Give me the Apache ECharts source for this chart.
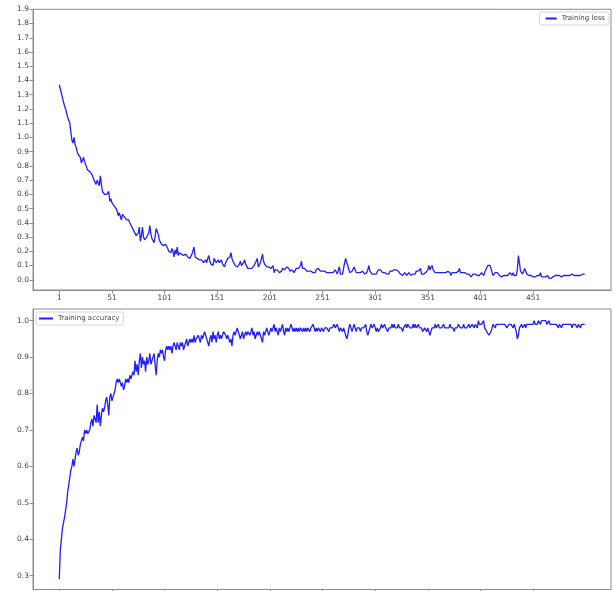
<!DOCTYPE html>
<html>
<head>
<meta charset="utf-8">
<script src="https://cdn.jsdelivr.net/npm/echarts@6/dist/echarts.min.js"></script>
<style>
html,body{margin:0;padding:0;background:#fff;}
#chart{width:614px;height:591px;}
</style>
</head>
<body>
<div id="chart"></div>
<script>
// Training loss per epoch (epochs 1..500)
const trainingLoss = [
1.37,1.34,1.31,1.28,1.25,1.22,1.20,1.17,1.14,1.12,
1.10,1.04,0.98,0.96,1.00,0.95,0.93,0.90,0.88,0.89,
0.86,0.82,0.84,0.86,0.83,0.81,0.80,0.77,0.78,0.76,
0.77,0.74,0.72,0.70,0.69,0.67,0.70,0.68,0.66,0.73,
0.67,0.62,0.63,0.60,0.61,0.60,0.59,0.62,0.55,0.57,
0.54,0.55,0.52,0.53,0.50,0.48,0.45,0.47,0.48,0.42,
0.46,0.47,0.44,0.43,0.42,0.41,0.42,0.40,0.40,0.37,
0.36,0.34,0.35,0.31,0.30,0.33,0.37,0.27,0.31,0.37,
0.30,0.28,0.29,0.30,0.31,0.33,0.38,0.32,0.29,0.28,
0.26,0.30,0.36,0.35,0.32,0.28,0.27,0.25,0.26,0.24,
0.23,0.25,0.24,0.22,0.20,0.21,0.19,0.22,0.20,0.16,
0.21,0.18,0.23,0.17,0.19,0.20,0.18,0.19,0.17,0.18,
0.18,0.17,0.16,0.17,0.15,0.16,0.18,0.19,0.23,0.16,
0.17,0.15,0.16,0.14,0.15,0.14,0.13,0.12,0.13,0.14,
0.12,0.15,0.17,0.13,0.11,0.12,0.10,0.15,0.14,0.12,
0.13,0.14,0.12,0.13,0.14,0.11,0.10,0.09,0.12,0.13,
0.15,0.14,0.16,0.19,0.15,0.13,0.12,0.10,0.11,0.09,
0.08,0.11,0.13,0.10,0.09,0.12,0.14,0.11,0.10,0.08,
0.09,0.08,0.09,0.08,0.09,0.10,0.09,0.13,0.15,0.09,
0.08,0.12,0.11,0.18,0.13,0.11,0.10,0.09,0.10,0.09,
0.10,0.08,0.09,0.10,0.05,0.07,0.08,0.07,0.06,0.05,
0.04,0.06,0.08,0.09,0.07,0.08,0.09,0.10,0.08,0.06,
0.05,0.07,0.06,0.05,0.06,0.08,0.07,0.08,0.09,0.10,
0.13,0.08,0.07,0.08,0.07,0.06,0.07,0.06,0.05,0.06,
0.06,0.05,0.06,0.05,0.07,0.06,0.08,0.09,0.06,0.05,
0.06,0.05,0.06,0.06,0.05,0.06,0.05,0.06,0.05,0.06,
0.05,0.06,0.07,0.08,0.04,0.07,0.09,0.04,0.05,0.04,
0.08,0.12,0.15,0.12,0.10,0.07,0.05,0.04,0.06,0.05,
0.09,0.08,0.05,0.06,0.05,0.06,0.05,0.04,0.06,0.05,
0.04,0.03,0.05,0.07,0.10,0.06,0.05,0.04,0.05,0.04,
0.05,0.04,0.05,0.07,0.08,0.07,0.06,0.05,0.04,0.05,
0.04,0.04,0.05,0.04,0.06,0.05,0.06,0.05,0.07,0.06,
0.07,0.08,0.06,0.05,0.04,0.05,0.03,0.04,0.05,0.04,
0.03,0.04,0.05,0.04,0.03,0.03,0.04,0.05,0.04,0.06,
0.05,0.06,0.07,0.08,0.04,0.05,0.04,0.05,0.05,0.06,
0.07,0.10,0.07,0.08,0.10,0.07,0.06,0.05,0.04,0.05,
0.04,0.05,0.04,0.05,0.04,0.05,0.06,0.05,0.04,0.06,
0.07,0.05,0.03,0.05,0.06,0.05,0.04,0.05,0.04,0.06,
0.08,0.05,0.04,0.05,0.04,0.05,0.06,0.04,0.05,0.04,
0.03,0.02,0.03,0.04,0.03,0.04,0.04,0.03,0.02,0.03,
0.04,0.05,0.04,0.03,0.05,0.07,0.08,0.10,0.09,0.10,
0.08,0.05,0.03,0.04,0.05,0.04,0.05,0.04,0.03,0.03,
0.02,0.03,0.03,0.02,0.03,0.04,0.03,0.04,0.05,0.04,
0.03,0.05,0.03,0.02,0.03,0.07,0.17,0.12,0.06,0.05,
0.04,0.06,0.08,0.06,0.04,0.03,0.03,0.04,0.03,0.02,
0.02,0.03,0.02,0.02,0.03,0.02,0.03,0.05,0.02,0.01,
0.02,0.01,0.02,0.02,0.03,0.01,0.00,0.01,0.02,0.02,
0.02,0.03,0.02,0.03,0.02,0.03,0.02,0.02,0.03,0.03,
0.02,0.03,0.03,0.03,0.04,0.03,0.03,0.04,0.04,0.03,
0.02,0.03,0.02,0.03,0.02,0.03,0.03,0.04,0.04,0.04
];

// Training accuracy per epoch (epochs 1..500)
const trainingAccuracy = [
0.29,0.37,0.37,0.43,0.43,0.46,0.46,0.50,0.53,0.55,
0.57,0.59,0.60,0.62,0.60,0.62,0.64,0.65,0.63,0.64,
0.66,0.67,0.68,0.67,0.70,0.69,0.70,0.69,0.69,0.70,
0.72,0.73,0.71,0.74,0.73,0.72,0.77,0.72,0.75,0.71,
0.74,0.76,0.75,0.76,0.78,0.79,0.77,0.74,0.79,0.80,
0.78,0.79,0.80,0.81,0.83,0.84,0.83,0.84,0.83,0.82,
0.83,0.81,0.82,0.84,0.83,0.84,0.83,0.85,0.84,0.85,
0.86,0.85,0.89,0.86,0.88,0.85,0.89,0.91,0.87,0.90,
0.88,0.89,0.86,0.90,0.88,0.89,0.91,0.88,0.89,0.90,
0.91,0.88,0.85,0.89,0.91,0.90,0.92,0.91,0.92,0.90,
0.89,0.92,0.93,0.92,0.93,0.92,0.93,0.91,0.93,0.94,
0.94,0.92,0.94,0.93,0.92,0.94,0.93,0.94,0.92,0.93,
0.94,0.95,0.93,0.94,0.95,0.94,0.95,0.94,0.96,0.94,
0.95,0.95,0.96,0.95,0.94,0.96,0.95,0.96,0.97,0.96,
0.95,0.94,0.93,0.95,0.96,0.94,0.97,0.95,0.96,0.94,
0.96,0.97,0.95,0.96,0.95,0.96,0.97,0.97,0.96,0.95,
0.96,0.95,0.94,0.95,0.93,0.96,0.97,0.96,0.97,0.98,
0.98,0.96,0.95,0.96,0.97,0.95,0.96,0.97,0.96,0.97,
0.97,0.96,0.97,0.98,0.96,0.97,0.95,0.96,0.97,0.96,
0.97,0.96,0.95,0.94,0.97,0.96,0.97,0.98,0.97,0.96,
0.97,0.98,0.97,0.98,0.99,0.97,0.98,0.97,0.96,0.98,
0.97,0.98,0.99,0.97,0.96,0.98,0.97,0.98,0.97,0.98,
0.99,0.98,0.97,0.98,0.97,0.98,0.97,0.98,0.97,0.98,
0.98,0.97,0.98,0.97,0.98,0.97,0.98,0.98,0.97,0.98,
0.98,0.99,0.98,0.97,0.98,0.97,0.98,0.98,0.97,0.98,
0.98,0.97,0.98,0.98,0.98,0.98,0.97,0.98,0.98,0.98,
0.98,0.99,0.98,0.98,0.99,0.98,0.97,0.98,0.98,0.97,
0.98,0.97,0.96,0.95,0.96,0.98,0.99,0.98,0.97,0.98,
0.99,0.98,0.97,0.98,0.98,0.98,0.97,0.98,0.98,0.98,
0.98,0.99,0.97,0.96,0.96,0.98,0.99,0.98,0.98,0.99,
0.98,0.97,0.98,0.97,0.97,0.98,0.99,0.98,0.98,0.99,
0.98,0.98,0.97,0.98,0.98,0.98,0.99,0.98,0.99,0.98,
0.98,0.98,0.99,0.98,0.98,0.98,0.97,0.98,0.98,0.99,
0.98,0.99,0.99,0.98,0.98,0.98,0.99,0.98,0.99,0.98,
0.98,0.99,0.98,0.98,0.98,0.97,0.97,0.98,0.98,0.97,
0.98,0.97,0.96,0.97,0.98,0.98,0.98,0.99,0.98,0.98,
0.99,0.98,0.98,0.98,0.98,0.99,0.98,0.98,0.98,0.98,
0.98,0.99,0.98,0.98,0.98,0.97,0.98,0.98,0.98,0.99,
0.99,0.98,0.98,0.98,0.99,0.98,0.98,0.98,0.98,0.99,
0.98,0.98,0.99,0.99,0.98,0.99,0.99,0.98,1.00,0.99,
0.99,0.99,0.99,1.00,0.98,0.98,0.97,0.97,0.96,0.96,
0.97,0.98,0.99,0.99,0.98,0.99,0.99,0.99,0.99,0.99,
0.99,0.99,0.99,0.99,0.99,0.98,0.98,0.99,0.99,0.99,
0.99,0.98,0.99,0.98,0.97,0.95,0.96,0.98,0.98,0.99,
0.98,0.98,0.99,0.98,0.99,0.99,0.99,0.99,0.99,0.99,
0.99,1.00,0.99,0.99,0.99,1.00,1.00,0.99,1.00,1.00,
1.00,1.00,1.00,0.99,0.99,1.00,0.99,0.99,0.99,0.99,
0.99,0.99,0.99,0.99,0.98,0.99,0.99,0.98,0.99,0.99,
0.99,0.99,0.99,0.99,0.99,0.99,0.99,0.98,0.99,0.99,
0.99,0.99,0.98,0.99,0.99,0.98,0.99,0.99,0.99,0.99
];

// Tick labels
const epochTicks = [1, 51, 101, 151, 201, 251, 301, 351, 401, 451];
const lossTicks = [0.0,0.1,0.2,0.3,0.4,0.5,0.6,0.7,0.8,0.9,1.0,1.1,1.2,1.3,1.4,1.5,1.6,1.7,1.8,1.9];
const accTicks = [0.3,0.4,0.5,0.6,0.7,0.8,0.9,1.0];

const lossPoints = trainingLoss.map((v, i) => [i + 1, v]);
const accPoints = trainingAccuracy.map((v, i) => [i + 1, v]);

const frameColor = '#8c8c8c';
const textColor = '#444';
const lineColor = '#1f1fff';
const fontFamily = '"DejaVu Sans", sans-serif';

function xAxisCfg(gridIndex, showLabels) {
  return {
    type: 'value', gridIndex,
    min: -23.95, max: 524.95,
    splitLine: { show: false },
    axisLine: { show: true, onZero: false, lineStyle: { color: frameColor, width: 1 } },
    axisTick: { show: true, length: 3.5, inside: false, customValues: epochTicks, lineStyle: { color: frameColor } },
    axisLabel: { show: showLabels, customValues: epochTicks, color: textColor, fontSize: 7.5, fontFamily, margin: 4 }
  };
}
function yAxisCfg(gridIndex, min, max, ticks) {
  return {
    type: 'value', gridIndex, min, max,
    splitLine: { show: false },
    axisLine: { show: true, onZero: false, lineStyle: { color: frameColor, width: 1 } },
    axisTick: { show: true, length: 3.5, customValues: ticks, lineStyle: { color: frameColor } },
    axisLabel: { customValues: ticks, color: textColor, fontSize: 7.5, fontFamily, margin: 4,
      formatter: v => Number(v).toFixed(1) }
  };
}

const chart = echarts.init(document.getElementById('chart'), null, { renderer: 'canvas' });
chart.setOption({
  animation: false,
  backgroundColor: '#fff',
  grid: [
    { left: 33, top: 9.3, width: 578, height: 280.7, show: true, borderColor: frameColor, borderWidth: 1, containLabel: false },
    { left: 33, top: 309, width: 578, height: 280.5, show: true, borderColor: frameColor, borderWidth: 1, containLabel: false }
  ],
  xAxis: [xAxisCfg(0, true), xAxisCfg(1, false)],
  yAxis: [yAxisCfg(0, -0.072, 1.9, lossTicks), yAxisCfg(1, 0.262, 1.032, accTicks)],
  legend: [
    { data: ['Training loss'], right: 5, top: 12, orient: 'vertical',
      itemWidth: 11, itemHeight: 2, itemGap: 4, padding: [3, 4, 3, 6],
      borderColor: '#d6d6d6', borderWidth: 1, borderRadius: 2, backgroundColor: '#fff',
      textStyle: { color: textColor, fontSize: 7, fontFamily },
      icon: 'rect' },
    { data: ['Training accuracy'], left: 36, top: 312, orient: 'vertical',
      itemWidth: 14, itemHeight: 2, itemGap: 4, padding: [3, 4, 3, 3],
      borderColor: '#d6d6d6', borderWidth: 1, borderRadius: 2, backgroundColor: '#fff',
      textStyle: { color: textColor, fontSize: 7, fontFamily },
      icon: 'rect' }
  ],
  series: [
    { name: 'Training loss', type: 'line', xAxisIndex: 0, yAxisIndex: 0, data: lossPoints,
      showSymbol: false, symbol: 'none', color: lineColor, lineStyle: { color: lineColor, width: 1.3 } },
    { name: 'Training accuracy', type: 'line', xAxisIndex: 1, yAxisIndex: 1, data: accPoints,
      showSymbol: false, symbol: 'none', color: lineColor, lineStyle: { color: lineColor, width: 1.3 } }
  ]
});
</script>
</body>
</html>
